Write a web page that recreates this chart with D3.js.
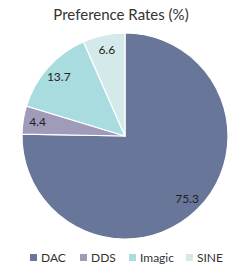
<!DOCTYPE html>
<html>
<head>
<meta charset="utf-8">
<script src="https://cdn.jsdelivr.net/npm/d3@7.9.0/dist/d3.min.js"></script>
<style>
  body { margin: 0; background: #fff; }
  svg { display: block; font-family: Lato, "Open Sans", sans-serif; }
</style>
</head>
<body>
<svg id="chart" width="242" height="267"></svg>
<script>
const labels = ['DAC', 'DDS', 'Imagic', 'SINE'];
const rates = [75.3, 4.4, 13.7, 6.6];
const colorList = ['#68769a', '#a09bb9', '#a8dcdf', '#d4eaea'];

const svg = d3.select('#chart');
const cx = 125, cy = 136, radius = 103;

svg.append('text')
   .attr('x', 121).attr('y', 20)
   .attr('text-anchor', 'middle')
   .attr('font-size', 15)
   .attr('fill', '#333')
   .text('Preference Rates (%)');

const color = d3.scaleOrdinal().domain(labels).range(colorList);
const data = labels.map((l, i) => ({ label: l, value: rates[i] }));

const pie = d3.pie().value(d => d.value).sort(null);
const arc = d3.arc().innerRadius(0).outerRadius(radius);
const labelArc = d3.arc().innerRadius(radius * 0.86).outerRadius(radius * 0.86);

const g = svg.append('g').attr('transform', `translate(${cx},${cy})`);
const arcs = pie(data);

g.selectAll('path')
 .data(arcs)
 .join('path')
 .attr('d', arc)
 .attr('fill', d => color(d.data.label))
 .attr('stroke', '#fff')
 .attr('stroke-width', 1.2);

g.selectAll('text')
 .data(arcs)
 .join('text')
 .attr('transform', d => `translate(${labelArc.centroid(d)})`)
 .attr('text-anchor', 'middle')
 .attr('dy', '0.35em')
 .attr('font-size', 12)
 .attr('fill', '#222')
 .text(d => d.data.value.toFixed(1));

// legend
const legendX = d3.scalePoint().domain(labels).range([30, 186]);
const legendX2 = d3.scaleOrdinal().domain(labels).range([30, 80, 129, 186]);
const lg = svg.append('g').selectAll('g')
  .data(labels)
  .join('g')
  .attr('transform', d => `translate(${legendX2(d)},258)`);

lg.append('rect')
  .attr('x', 0).attr('y', -4)
  .attr('width', 7).attr('height', 7)
  .attr('fill', d => color(d));

lg.append('text')
  .attr('x', 11).attr('dy', '0.35em')
  .attr('font-size', 12)
  .attr('fill', '#333')
  .text(d => d);
</script>
</body>
</html>
